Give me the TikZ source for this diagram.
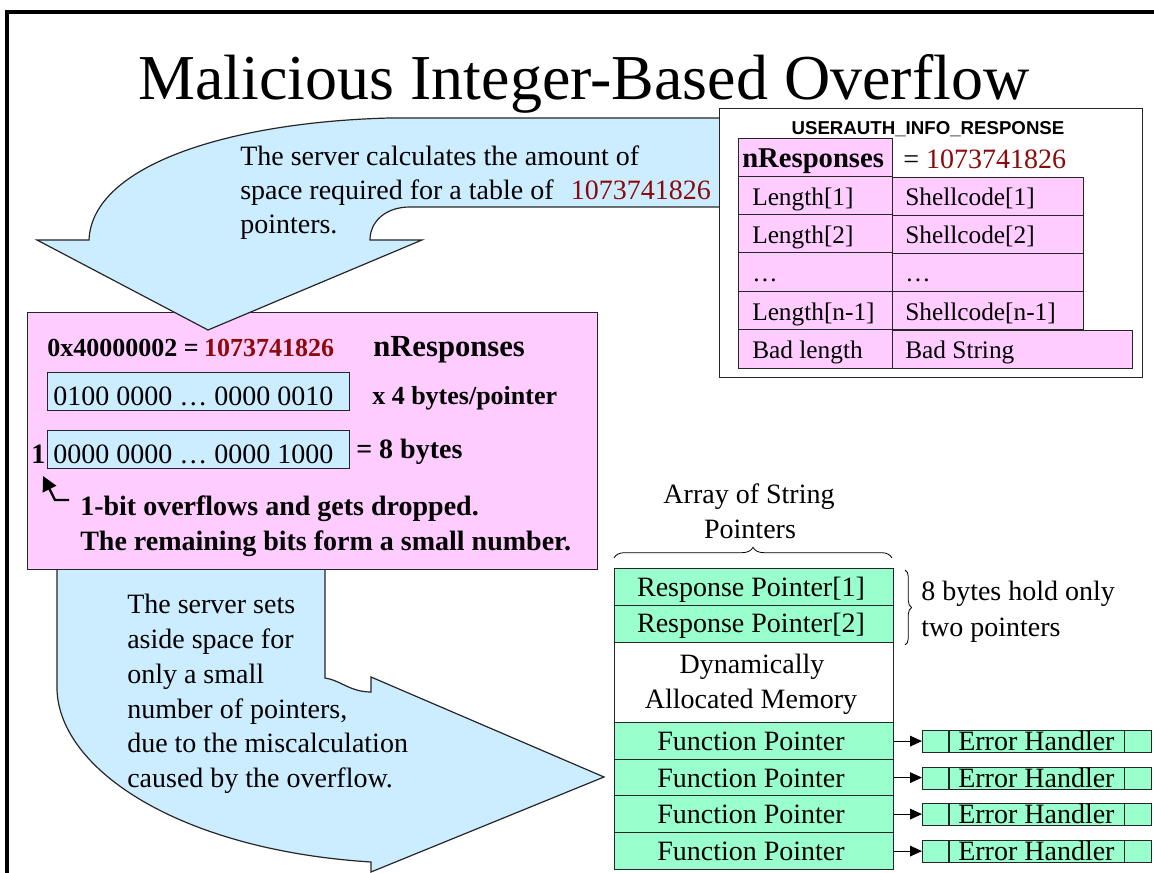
\documentclass[tikz,border=0pt]{standalone}
\usepackage{fontspec}
\setmainfont{Liberation Serif}
\setsansfont{Liberation Sans}
\usetikzlibrary{arrows.meta,decorations.pathreplacing}
\definecolor{bluef}{RGB}{204,236,255}
\definecolor{pinkf}{RGB}{255,204,255}
\definecolor{greenf}{RGB}{153,255,204}
\definecolor{dred}{RGB}{140,10,10}
\newcommand\bx[6]{\node[#1, minimum width=#4*0.75pt, minimum height=#5*0.75pt, anchor=north west, inner sep=0pt] (#2) at (#3) {#6};}
\begin{document}
\begin{tikzpicture}[x=0.75pt,y=-0.75pt,
  tx/.style={inner sep=0pt, anchor=base west},
  txc/.style={inner sep=0pt, anchor=base},
  f21/.style={font=\fontsize{21}{25}\selectfont},
  f19/.style={font=\fontsize{19}{23}\selectfont},
  fb19/.style={font=\fontsize{19.5}{23}\selectfont\bfseries},
  fb21/.style={font=\fontsize{21}{25}\selectfont\bfseries},
  fb23/.style={font=\fontsize{23}{27}\selectfont\bfseries},
  ttl/.style={font=\fontsize{48}{56}\selectfont},
  sansb/.style={font=\fontsize{14}{17}\selectfont\sffamily\bfseries},
  bigarrow/.style={fill=bluef, draw=black!85, line width=0.9pt},
  cellp/.style={draw=black!85, fill=pinkf, line width=0.9pt},
  cellg/.style={draw=black!85, fill=greenf, line width=0.9pt},
  cellb/.style={draw=black!85, fill=bluef, line width=0.9pt},
  cellw/.style={draw=black!85, fill=white, line width=0.9pt},
  ptr/.style={draw=black, line width=0.9pt, -{Triangle[length=9pt,width=8pt]}},
  brc/.style={draw=black, line width=0.6pt, decorate}
]
\useasboundingbox (0,0) rectangle (1154,873);
\fill[white] (0,0) rectangle (1154,873);
% frame
\draw[line width=2.4pt] (1154,12) -- (7,12) -- (7,873);
% title
\node[txc, ttl] (title) at (584,100) {Malicious Integer-Based Overflow};

% bottom arrow
\path[bigarrow] (57,568) -- (57,690) .. controls (60,770) and (180,850) .. (371,862)
  -- (371,872) -- (604,777) -- (371,677) -- (371,692)
  .. controls (350,692) and (340,680) .. (325,678) -- (325,568) -- cycle;

% pink calculation box
\bx{cellp}{calc}{27,312}{570}{257}{}

% top arrow
\path[bigarrow] (720,118) -- (390,118) .. controls (230,122) and (92,165) .. (89,240)
  -- (37,240) -- (208,330) -- (422,240) -- (370,240)
  .. controls (370,222) and (385,207) .. (410,207) -- (720,207) -- cycle;
\node[tx, f21] (s1) at (240,166) {The server calculates the amount of};
\node[tx, f21] (s2) at (240,200) {space required for a table of\hspace{13pt}\textcolor{dred}{1073741826}};
\node[tx, f21] (s3) at (240,234) {pointers.};

% USERAUTH table
\bx{cellw}{tbl}{719,108}{423}{269}{}
\node[txc, sansb] (tblt) at (928,135) {USERAUTH\_INFO\_RESPONSE};
\bx{cellp}{nr}{738,138}{154}{38}{}
\node[tx, font=\fontsize{21.5}{25}\selectfont\bfseries] (nrt) at (742,168) {nResponses};
\node[tx, f21] (nrv) at (903,169) {= \textcolor{dred}{1073741826}};
\bx{cellp}{l1}{738,176}{154}{38}{}
\bx{cellp}{l2}{738,214}{154}{38}{}
\bx{cellp}{l3}{738,252}{154}{39}{}
\bx{cellp}{l4}{738,291}{154}{38}{}
\bx{cellp}{l5}{738,329}{154}{39}{}
\bx{cellp}{r1}{892,177}{191}{38}{}
\bx{cellp}{r2}{892,215}{191}{38}{}
\bx{cellp}{r3}{892,253}{191}{38}{}
\bx{cellp}{r4}{892,291}{191}{38}{}
\bx{cellp}{r5}{892,330}{240}{38}{}
\node[tx, f19] (l1t) at (752,206) {Length[1]};
\node[tx, f19] (l2t) at (752,244) {Length[2]};
\node[tx, f19] (l3t) at (752,282) {\ldots};
\node[tx, f19] (l4t) at (752,321) {Length[n-1]};
\node[tx, f19] (l5t) at (752,359) {Bad length};
\node[tx, f19] (r1t) at (905,206) {Shellcode[1]};
\node[tx, f19] (r2t) at (905,244) {Shellcode[2]};
\node[tx, f19] (r3t) at (905,282) {\ldots};
\node[tx, f19] (r4t) at (905,321) {Shellcode[n-1]};
\node[tx, f19] (r5t) at (905,359) {Bad String};

% pink box contents
\node[tx, fb19] (hex) at (47,357) {0x40000002\hspace{5pt}=\hspace{4pt}\textcolor{dred}{1073741826}};
\node[tx, fb23] (nr2) at (373,357) {nResponses};
\bx{cellb}{bin1}{47,372}{302}{38}{}
\node[tx, f21] (bin1t) at (53,406) {0100 0000 \ldots{} 0000 0010};
\node[tx, fb19] (mul) at (372,405) {x 4 bytes/pointer};
\bx{cellb}{bin2}{47,430}{302}{38}{}
\node[tx, f21] (bin2t) at (53,464) {0000 0000 \ldots{} 0000 1000};
\node[tx, fb21] (one) at (31,464) {1};
\node[tx, fb21] (eq8) at (356,459) {= 8 bytes};
\node[tx, fb21] (ovf1) at (80,516) {1-bit overflows and gets dropped.};
\node[tx, fb21] (ovf2) at (80,551) {The remaining bits form a small number.};
\coordinate (e0) at (69,500);
\coordinate (e1) at (55,500);
\coordinate (etip) at (43,476);
\draw[line width=1.8pt, -{Triangle[length=11pt,width=11pt]}] (e0) -- (e1) -- (etip);

% bottom arrow text
\node[tx, f21] (b1) at (127,614) {The server sets};
\node[tx, f21] (b2) at (127,648) {aside space for};
\node[tx, f21] (b3) at (127,683) {only a small};
\node[tx, f21] (b4) at (127,718) {number of pointers,};
\node[tx, f21] (b5) at (127,752) {due to the miscalculation};
\node[tx, f21] (b6) at (127,787) {caused by the overflow.};

% memory column
\node[txc, f21] (arr1) at (749,504) {Array of String};
\node[txc, f21] (arr2) at (750,539) {Pointers};
\coordinate (brL) at (614,558);
\coordinate (brR) at (892,558);
\draw[brc, decoration={brace, amplitude=8pt}] (brL) -- (brR);
\bx{cellg}{rp1}{614,568}{279}{37}{}
\bx{cellg}{rp2}{614,605}{279}{37}{}
\bx{cellw}{dyn}{614,642}{279}{80}{}
\bx{cellg}{fp1}{614,722}{279}{37}{}
\bx{cellg}{fp2}{614,759}{279}{36}{}
\bx{cellg}{fp3}{614,795}{279}{37}{}
\bx{cellg}{fp4}{614,832}{279}{37}{}
\node[txc, f21] (rp1t) at (751,596) {Response Pointer[1]};
\node[txc, f21] (rp2t) at (751,633) {Response Pointer[2]};
\node[txc, f21] (dyn1) at (752,673) {Dynamically};
\node[txc, f21] (dyn2) at (751,708) {Allocated Memory};
\node[txc, f21] (fp1t) at (751,750) {Function Pointer};
\node[txc, f21] (fp2t) at (751,787) {Function Pointer};
\node[txc, f21] (fp3t) at (751,823) {Function Pointer};
\node[txc, f21] (fp4t) at (751,860) {Function Pointer};
\coordinate (rbT) at (905,570);
\coordinate (rbB) at (905,645);
\draw[brc, decoration={brace, amplitude=5pt}] (rbT) -- (rbB);
\node[tx, f21] (eb1) at (921,600) {8 bytes hold only};
\node[tx, f21] (eb2) at (921,637) {two pointers};

% error handlers
\foreach \i/\y in {1/730, 2/767, 3/803, 4/840} {
  \bx{cellg}{eh\i}{922,\y}{229}{22}{}
  \draw[line width=0.9pt, draw=black!85] (eh\i.north west) ++(27,0) -- ++(0,22);
  \draw[line width=0.9pt, draw=black!85] (eh\i.north east) ++(-28,0) -- ++(0,22);
  \node[tx, f21] (eht\i) at (958,\y+20) {Error Handler};
  \draw[ptr] (fp\i.east) -- (fp\i.east -| eh\i.west);
}
\end{tikzpicture}
\end{document}
